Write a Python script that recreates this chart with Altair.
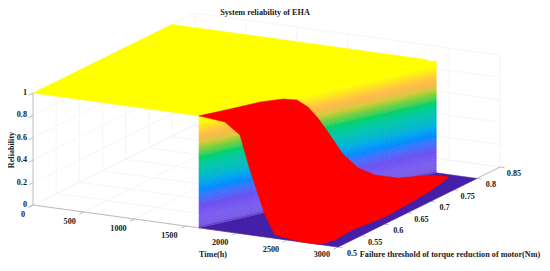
import altair as alt
import pandas as pd

# ---------- values ----------
title = "System reliability of EHA"
time_ticks = [0, 500, 1000, 1500, 2000, 2500, 3000]
thr_ticks = [0.5, 0.55, 0.6, 0.65, 0.7, 0.75, 0.8, 0.85]
rel_ticks = [0, 0.2, 0.4, 0.6, 0.8, 1]

# failure cliff (time at which the plateau ends) at the two threshold ends
cliff_thr = [0.5, 0.8]
cliff_time = [1633, 2600]

# colour ramp of the surface by reliability
ramp_z = [0, 0.03, 0.1, 0.2, 0.3, 0.38, 0.46, 0.56, 0.64, 0.7, 0.76, 0.82, 0.9, 0.96, 1]
ramp_c = ["#5a3cc8", "#7a5ce6", "#7a5cf0", "#6a50f0", "#2f78ff", "#0a9cf5", "#00b8c8",
          "#00c8a0", "#10d060", "#70d040", "#d8c840", "#ffb848", "#ffe020", "#ffff00", "#ffff00"]
ramp_steps = [i / 56 for i in range(57)]

# outline of the red part: (time, threshold, reliability)
red_time = [1633, 1710, 1777, 1776, 1777, 1794, 1801, 1809, 1856, 1922, 2163, 2388, 2601, 2757,
            2772, 2835, 2862, 2895, 2844, 2868, 2815, 2626, 2380, 2282, 2134, 2036, 1888]
red_thr = [0.5, 0.55, 0.6, 0.65, 0.68, 0.7, 0.72, 0.74, 0.76, 0.78, 0.764, 0.764, 0.79, 0.792,
           0.788, 0.739, 0.697, 0.625, 0.565, 0.522, 0.5, 0.5, 0.5, 0.5, 0.5, 0.5, 0.5]
red_rel = [1.0, 0.968, 0.9375, 0.8625, 0.793, 0.691, 0.553, 0.3875, 0.166, 0.0, 0, 0, 0, 0,
           0, 0, 0, 0, 0, 0, 0, 0, 0.03, 0.196, 0.58, 0.88, 0.977]

YELLOW = "#ffff00"
RED = "#ff0000"
FLOOR = "#4420a8"
GRID = "#f2f2f2"
AXIS = "#b4b4b4"
TEXT = "#1a1a1a"
FONT = "Liberation Serif"


# ---------- oblique view of the 3-D box ----------
def view(t, thr, z):
    a, b = t / 3000, (thr - 0.5) / 0.35
    return 33 + 305 * a + 162 * b, 205 + 42 * a - 80 * b - 112 * z


polys = []


def poly(pid, pts, kind, z=None):
    for i, p in enumerate(pts):
        u, v = view(*p)
        polys.append(dict(id=pid, i=i, u=u, v=v, kind=kind, z=z))


poly("floor", [(cliff_time[0], 0.5, 0), (3000, 0.5, 0), (3000, 0.8, 0), (cliff_time[1], 0.8, 0)], FLOOR)
for k in range(len(ramp_steps) - 1):
    z0, z1 = ramp_steps[k], ramp_steps[k + 1]
    poly(f"w{k:03d}", [(cliff_time[0], 0.5, z0), (cliff_time[1], 0.8, z0),
                       (cliff_time[1], 0.8, z1), (cliff_time[0], 0.5, z1)], "ramp", (z0 + z1) / 2)
poly("yellow", [(0, 0.5, 1), (0, 0.8, 1), (2500, 0.8, 1), (2590, 0.8, 0.975), (cliff_time[0], 0.5, 1)], YELLOW)
poly("red", list(zip(red_time, red_thr, red_rel)), RED)
df = pd.DataFrame(polys)

rules = []


def rule(p, q, c):
    u, v = view(*p)
    u2, v2 = view(*q)
    rules.append(dict(u=u, v=v, u2=u2, v2=v2, c=c))


# light grid on the walls and floor of the box
for z in rel_ticks:
    rule((0, 0.5, z), (0, 0.85, z), GRID)
    rule((0, 0.85, z), (3000, 0.85, z), GRID)
for t in time_ticks:
    rule((t, 0.5, 0), (t, 0.85, 0), GRID)
    if t:
        rule((t, 0.85, 0), (t, 0.85, 1), GRID)
for th in thr_ticks:
    rule((0, th, 0), (3000, th, 0), GRID)
    if th > 0.5:
        rule((0, th, 0), (0, th, 1), GRID)
grid_df = pd.DataFrame(rules)

rules = []
rule((0, 0.5, 0), (0, 0.5, 1), AXIS)
rule((0, 0.5, 0), (3000, 0.5, 0), AXIS)
rule((3000, 0.5, 0), (3000, 0.85, 0), AXIS)
for z in rel_ticks:
    rule((0, 0.5, z), (0, 0.49, z), AXIS)
for t in time_ticks:
    rule((t, 0.5, 0), (t, 0.49, 0), AXIS)
for th in thr_ticks:
    rule((3000, th, 0), (3045, th, 0), AXIS)
axis_df = pd.DataFrame(rules)

labels = []


def label(s, u, v, align="center", angle=0):
    labels.append(dict(s=s, u=u, v=v, halign=align, rot=angle))


for z in rel_ticks:
    u, v = view(0, 0.5, z)
    label(f"{z:g}", u - 6, v, "right")
for t in time_ticks:
    u, v = view(t, 0.5, 0)
    label(str(t), u - 8, min(v + 10, 254.5), "right")
for th in thr_ticks:
    u, v = view(3000, th, 0)
    label(f"{th:g}", u + 14, v + 7)
label(title, 265, 13)
label("Reliability", 12, 150, angle=270)
label("Time(h)", 213, 254.5)
label("Failure threshold of torque reduction of motor(Nm)", 450, 254.5)
lab_df = pd.DataFrame(labels)

X = alt.X("u:Q", scale=alt.Scale(domain=[8, 542], nice=False, zero=False), axis=None)
Y = alt.Y("v:Q", scale=alt.Scale(domain=[259, 8], nice=False, zero=False), axis=None)

grid = alt.Chart(grid_df).mark_rule(strokeWidth=0.8).encode(
    x=X, y=Y, x2="u2:Q", y2="v2:Q", color=alt.Color("c:N", scale=None))
solid = alt.Chart(df[df.kind != "ramp"]).mark_line(interpolate="linear-closed", strokeWidth=0.5).encode(
    x=X, y=Y, order="i:Q", detail="id:N",
    fill=alt.Fill("kind:N", scale=None), stroke=alt.Stroke("kind:N", scale=None))
ramp_scale = alt.Scale(domain=ramp_z, range=ramp_c)
ramp = alt.Chart(df[df.kind == "ramp"]).mark_line(interpolate="linear-closed", strokeWidth=0.6).encode(
    x=X, y=Y, order="i:Q", detail="id:N",
    fill=alt.Fill("z:Q", scale=ramp_scale, legend=None),
    stroke=alt.Stroke("z:Q", scale=ramp_scale, legend=None))
floor = solid.transform_filter("datum.id == 'floor'")
top = solid.transform_filter("datum.id != 'floor'")
axes = alt.Chart(axis_df).mark_rule(strokeWidth=0.9).encode(
    x=X, y=Y, x2="u2:Q", y2="v2:Q", color=alt.Color("c:N", scale=None))


def text_layer(align, angle):
    d = lab_df[(lab_df["halign"] == align) & (lab_df["rot"] == angle)][["s", "u", "v"]]
    return alt.Chart(d).mark_text(font=FONT, fontWeight="bold", fontSize=8.2, align=align, baseline="middle",
                                  angle=angle, color=TEXT).encode(
        x=X, y=Y, text=alt.Text("s:N"))


chart = alt.layer(grid, axes, floor, ramp, top, text_layer("right", 0), text_layer("center", 0),
                  text_layer("center", 270)).resolve_scale(
    fill="independent", stroke="independent", color="independent"
).properties(
    width=534, height=251, padding=0, autosize=alt.AutoSizeParams(type="none")
).configure_view(stroke=None)

chart.save("out.html", embed_options={"renderer": "svg", "actions": False})
